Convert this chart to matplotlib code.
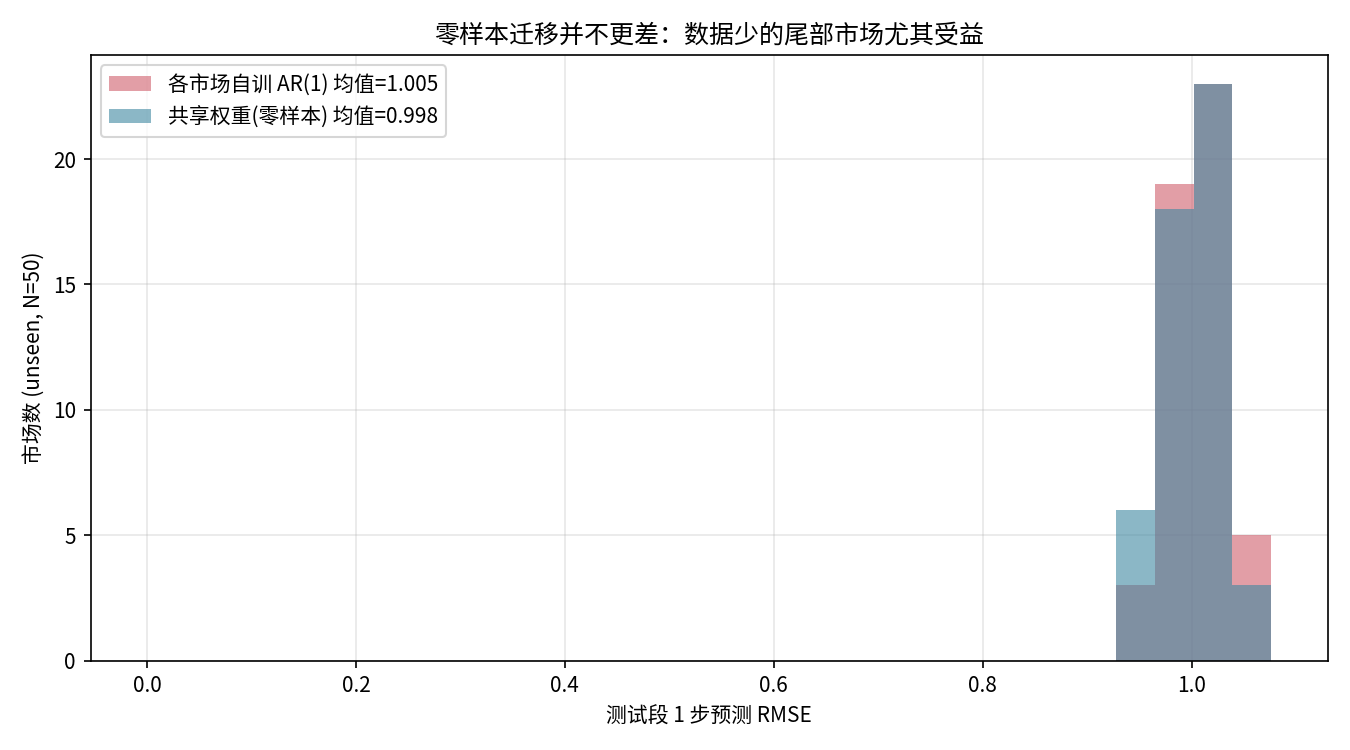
import matplotlib

matplotlib.use("Agg")
import matplotlib.pyplot as plt

plt.rcParams["font.family"] = ["Noto Sans CJK SC", "DejaVu Sans"]
plt.rcParams["axes.unicode_minus"] = False

# Histogram bin edges (test-period RMSE) and per-bin market counts.
bin_edges = [0.928, 0.965, 1.002, 1.039, 1.076]
ar1_counts = [3, 19, 23, 5]
shared_counts = [6, 18, 23, 3]
ar1_label = "各市场自训 AR(1) 均值=1.005"
shared_label = "共享权重(零样本) 均值=0.998"

fig, ax = plt.subplots(figsize=(9, 5), dpi=150)
ax.hist(bin_edges[:-1], bins=bin_edges, weights=ar1_counts,
        color="#d05d6b", alpha=0.6, label=ar1_label)
ax.hist(bin_edges[:-1], bins=bin_edges, weights=shared_counts,
        color="#3e87a0", alpha=0.6, label=shared_label)

ax.set_xlim(-0.054, 1.13)
ax.set_xticks([0.0, 0.2, 0.4, 0.6, 0.8, 1.0])
ax.set_yticks([0, 5, 10, 15, 20])
ax.grid(True, alpha=0.3)
ax.set_axisbelow(True)
ax.set_xlabel("测试段 1 步预测 RMSE")
ax.set_ylabel("市场数 (unseen, N=50)")
ax.set_title("零样本迁移并不更差：数据少的尾部市场尤其受益")
ax.legend(loc="upper left")
fig.tight_layout()
fig.savefig("out.png", dpi=150)
